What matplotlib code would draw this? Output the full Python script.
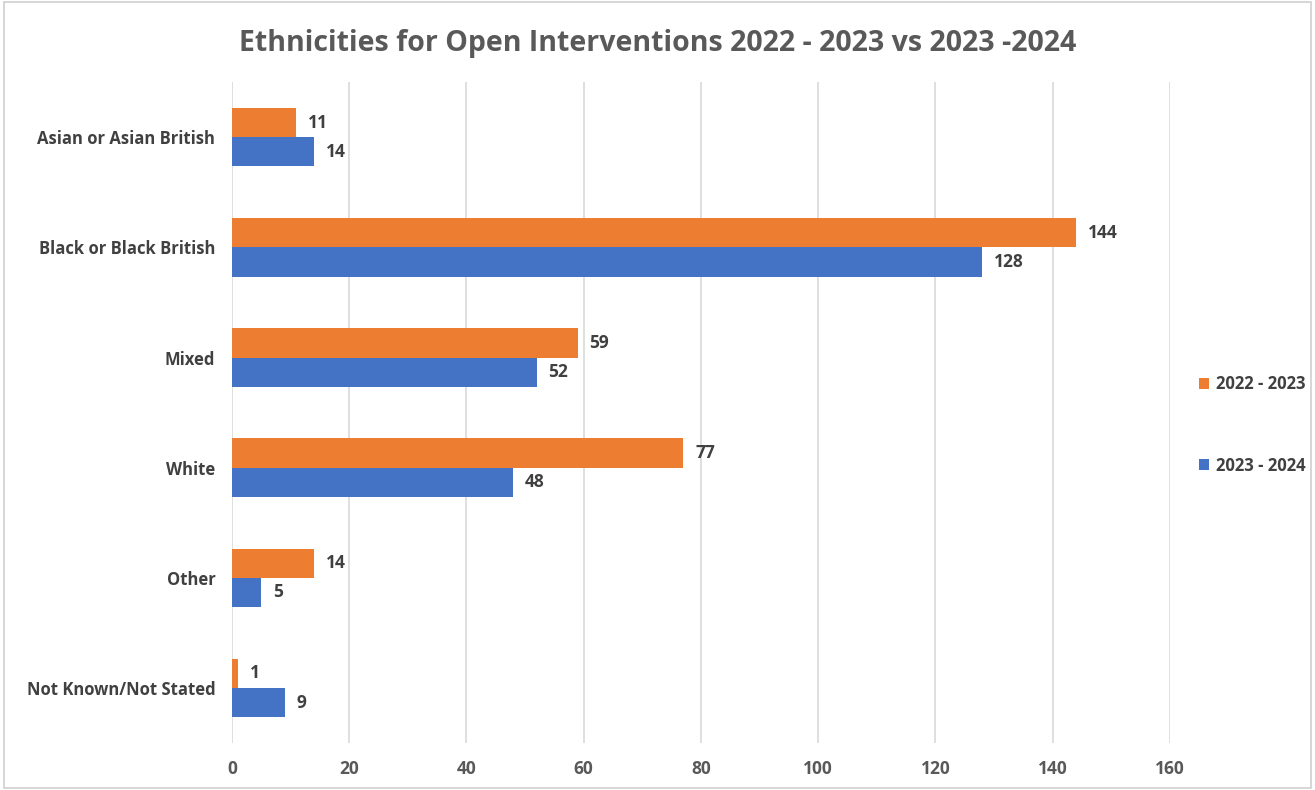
import matplotlib.pyplot as plt
import numpy as np
from matplotlib.patches import Rectangle

# ---------- DATA ----------
categories = ["Asian or Asian British", "Black or Black British", "Mixed",
              "White", "Other", "Not Known/Not Stated"]
values_2022 = [11, 144, 59, 77, 14, 1]
values_2023 = [14, 128, 52, 48, 5, 9]
series_labels = ["2022 - 2023", "2023 - 2024"]
x_ticks = [0, 20, 40, 60, 80, 100, 120, 140, 160]
title = "Ethnicities for Open Interventions 2022 - 2023 vs 2023 -2024"
# --------------------------

ORANGE = "#ED7D31"
BLUE = "#4472C4"
TEXT = "#404040"
GRID = "#D9D9D9"

plt.rcParams["font.family"] = ["Open Sans", "DejaVu Sans"]

fig = plt.figure(figsize=(13.15, 7.9), dpi=100)
ax = fig.add_axes([0.1764, 0.0595, 0.7133, 0.8365])

y = np.arange(len(categories))
h = 0.265
bars1 = ax.barh(y - h / 2, values_2022, height=h, color=ORANGE, label=series_labels[0], zorder=3)
bars2 = ax.barh(y + h / 2, values_2023, height=h, color=BLUE, label=series_labels[1], zorder=3)

for bars in (bars1, bars2):
    for b in bars:
        w = b.get_width()
        ax.text(w + 2, b.get_y() + b.get_height() / 2, f"{w:g}",
                va="center", ha="left", fontsize=12.5, fontweight="bold", color=TEXT)

ax.set_ylim(len(categories) - 0.5, -0.5)
ax.set_xlim(0, 160)
ax.set_xticks(x_ticks)
ax.set_yticks(y)
ax.set_yticklabels(categories, fontsize=12, fontweight="bold", color=TEXT)
ax.tick_params(axis="x", labelsize=12.5, labelcolor="#595959", length=0, pad=12)
ax.tick_params(axis="y", length=0, pad=12)
for lbl in ax.get_xticklabels():
    lbl.set_fontweight("bold")

ax.grid(axis="x", color=GRID, linewidth=1.2, zorder=0)
for s in ax.spines.values():
    s.set_visible(False)

fig.text(0.5, 0.945, title, ha="center", va="center", fontsize=20.5,
         fontweight="bold", color="#595959")

leg = fig.legend(handles=[bars1, bars2], labels=series_labels,
                 loc="center left", bbox_to_anchor=(0.900, 0.462),
                 frameon=False, fontsize=12, handlelength=0.65, handleheight=0.65,
                 handletextpad=0.4, labelspacing=3.8)
for t in leg.get_texts():
    t.set_color(TEXT)
    t.set_fontweight("bold")

fig.patches.append(Rectangle((0.003, 0.003), 0.994, 0.994, transform=fig.transFigure,
                             fill=False, edgecolor="#D0D0D0", linewidth=1.2))

fig.savefig("out.png", dpi=100)
